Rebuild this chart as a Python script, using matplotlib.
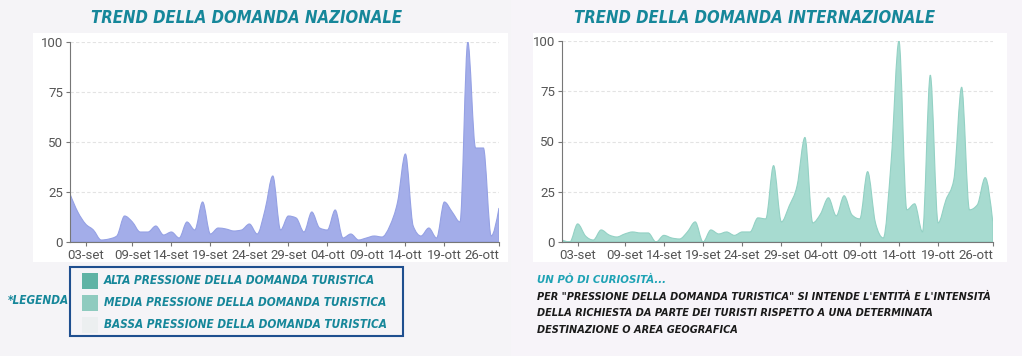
import numpy as np
import pandas as pd
import matplotlib
matplotlib.use("Agg")
import matplotlib.pyplot as plt
from matplotlib.path import Path
from matplotlib.patches import PathPatch, Rectangle

# daily index (01-set .. 26-ott)
days = pd.date_range("2023-09-01", "2023-10-26", freq="D")

nazionale = [24, 15, 9, 6, 1, 1.5, 3, 13, 10, 5, 5, 8, 3.5, 5, 2, 10, 6, 20, 4, 7,
             6.5, 5.5, 6, 9, 4, 16, 33, 6, 13, 12, 5, 15, 7, 6, 16, 2, 4, 1, 2, 3,
             2.5, 8, 20, 44, 8, 3, 7, 2, 20, 15, 10, 100, 47, 47, 3, 17]

internazionale = [1, 0, 9, 3, 1, 6, 3.5, 2.5, 4, 5, 4.5, 4.5, 0, 3.3, 2, 1.5, 5, 10, 0, 6,
                  4, 5, 3.3, 5, 5, 12, 11.5, 38, 10, 18, 28, 52, 9.5, 14, 22, 13, 23, 13.5, 11.5, 35,
                  9.5, 2, 40, 100, 16, 19, 5, 83, 9.5, 21, 31, 77, 16, 18.5, 32, 9]

tick_dates = ["2023-09-03", "2023-09-09", "2023-09-14", "2023-09-19", "2023-09-24",
              "2023-09-29", "2023-10-04", "2023-10-09", "2023-10-14", "2023-10-19", "2023-10-26"]
tick_labels = ["03-set", "09-set", "14-set", "19-set", "24-set", "29-set",
               "04-ott", "09-ott", "14-ott", "19-ott", "26-ott"]

legend_labels = ["ALTA PRESSIONE DELLA DOMANDA TURISTICA",
                 "MEDIA PRESSIONE DELLA DOMANDA TURISTICA",
                 "BASSA PRESSIONE DELLA DOMANDA TURISTICA"]
legend_colors = ["#5fb3a4", "#8fcbbf", "#eceff0"]

TEAL = "#16879a"
# condensed bold italic look for the poster texts
POSTER = dict(family="DejaVu Sans", fontstretch="condensed", fontweight="bold", fontstyle="italic")


def monotone_path(x, y):
    """area path with monotone-x cubic curve (like d3 curveMonotoneX)"""
    x = np.asarray(x, float)
    y = np.asarray(y, float)
    h = np.diff(x)
    s = np.diff(y) / h
    m = np.zeros_like(y)
    for i in range(1, len(y) - 1):
        p = (s[i - 1] * h[i] + s[i] * h[i - 1]) / (h[i - 1] + h[i])
        m[i] = (np.sign(s[i - 1]) + np.sign(s[i])) * min(abs(s[i - 1]), abs(s[i]), 0.5 * abs(p))
    m[0] = (3 * s[0] - m[1]) / 2
    m[-1] = (3 * s[-1] - m[-2]) / 2
    verts = [(x[0], 0), (x[0], y[0])]
    codes = [Path.MOVETO, Path.LINETO]
    for i in range(len(x) - 1):
        d = h[i] / 3
        verts += [(x[i] + d, y[i] + m[i] * d), (x[i + 1] - d, y[i + 1] - m[i + 1] * d), (x[i + 1], y[i + 1])]
        codes += [Path.CURVE4] * 3
    verts += [(x[-1], 0), (x[0], 0)]
    codes += [Path.LINETO, Path.CLOSEPOLY]
    return Path(verts, codes)


def draw_trend(ax, values, fill, edge):
    x = np.arange(len(days))
    ax.add_patch(PathPatch(monotone_path(x, values), facecolor=fill, edgecolor=edge, lw=0.8))
    ax.set_xlim(0, len(days) - 1)
    ax.set_ylim(0, 100)
    ax.set_yticks([0, 25, 50, 75, 100])
    pos = [days.get_loc(pd.Timestamp(d)) for d in tick_dates]
    ax.set_xticks(pos)
    ax.set_xticklabels(tick_labels)
    for v in [25, 50, 75, 100]:
        ax.axhline(v, color="#e3e3e3", lw=0.8, ls=(0, (3, 2)), zorder=0)
    ax.set_facecolor("white")
    for side in ["top", "right"]:
        ax.spines[side].set_visible(False)
    for side in ["left", "bottom"]:
        ax.spines[side].set_color("#777777")
        ax.spines[side].set_linewidth(0.8)
    ax.tick_params(colors="#777777", labelcolor="#555555", labelsize=9.5, length=3, width=0.8, pad=2)
    for t in ax.get_xticklabels() + ax.get_yticklabels():
        t.set_fontfamily("Roboto")
    ax.get_xticklabels()[-1].set_ha("right")


fig = plt.figure(figsize=(10.22, 3.56), dpi=100)
fig.patch.set_facecolor("#f5f4f7")
fig.patches.append(Rectangle((0.5, 0), 0.5, 1, transform=fig.transFigure,
                             facecolor="#f7f4f9", edgecolor="none", zorder=-3))
# white panels behind charts
for x0, w in [(33, 475), (533, 474)]:
    fig.patches.append(Rectangle((x0 / 1022, (356 - 262) / 356), w / 1022, 229 / 356,
                                 transform=fig.transFigure, facecolor="white",
                                 edgecolor="none", zorder=-2))

ax1 = fig.add_axes([70 / 1022, 114 / 356, 429 / 1022, 200 / 356])
draw_trend(ax1, nazionale, "#a3ade9", "#95a1e4")
ax2 = fig.add_axes([562 / 1022, 114 / 356, 431 / 1022, 201 / 356])
draw_trend(ax2, internazionale, "#a7dbd0", "#93d1c4")

fig.text(247 / 1022, 1 - 18 / 356, "TREND DELLA DOMANDA NAZIONALE", ha="center", va="center",
         color=TEAL, fontsize=12, **POSTER)
fig.text(755 / 1022, 1 - 18 / 356, "TREND DELLA DOMANDA INTERNAZIONALE", ha="center", va="center",
         color=TEAL, fontsize=12, **POSTER)

# legend box
fig.patches.append(Rectangle((70 / 1022, 1 - 336 / 356), 333 / 1022, 69 / 356,
                             transform=fig.transFigure, facecolor="none",
                             edgecolor="#1f4f8f", lw=1.5))
fig.text(8 / 1022, 1 - 301 / 356, "*LEGENDA", ha="left", va="center", color=TEAL,
         fontsize=8.5, **POSTER)
for i, (lab, col) in enumerate(zip(legend_labels, legend_colors)):
    yc = 281 + 22 * i
    fig.patches.append(Rectangle((82 / 1022, 1 - (yc + 8) / 356), 16 / 1022, 16 / 356,
                                 transform=fig.transFigure, facecolor=col, edgecolor="none"))
    fig.text(104 / 1022, 1 - yc / 356, lab, ha="left", va="center", color=TEAL,
             fontsize=8.5, **POSTER)

# curiosity note
fig.text(537 / 1022, 1 - 280 / 356, "UN PÒ DI CURIOSITÀ...", ha="left", va="center", color="#1fa3b5",
         fontsize=8.2, **POSTER)
note = ['PER "PRESSIONE DELLA DOMANDA TURISTICA" SI INTENDE L\'ENTITÀ E L\'INTENSITÀ',
        "DELLA RICHIESTA DA PARTE DEI TURISTI RISPETTO A UNA DETERMINATA",
        "DESTINAZIONE O AREA GEOGRAFICA"]
for i, line in enumerate(note):
    fig.text(537 / 1022, 1 - (297 + 16.5 * i) / 356, line, ha="left", va="center", color="#1a1a1a",
             fontsize=7.8, **POSTER)

fig.savefig("out.png", dpi=100, facecolor=fig.get_facecolor())
